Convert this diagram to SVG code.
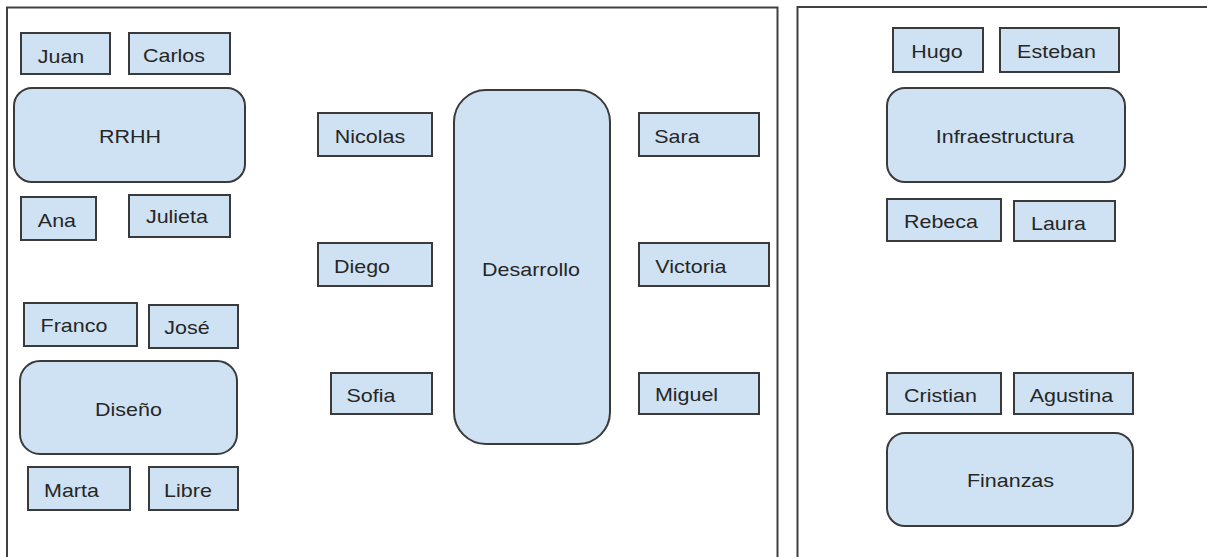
<svg xmlns="http://www.w3.org/2000/svg" width="1207" height="557" viewBox="0 0 1207 557">
  <style>
    .frame { fill: #ffffff; stroke: #404040; stroke-width: 2; }
    .box { fill: #cfe2f3; stroke: #3a3a3a; stroke-width: 2; }
    .lbl { font-family: "Liberation Sans", Arial, sans-serif; font-size: 19px; fill: #262626; text-anchor: middle;
           transform-box: fill-box; transform-origin: center; transform: scaleX(1.13); }
  </style>
  <rect width="1207" height="557" fill="#ffffff"/>

  <!-- area frames (open at the bottom / right edge) -->
  <g id="frames">
    <rect class="frame" x="7" y="7.5" width="770.5" height="600"/>
    <rect class="frame" x="797.5" y="7" width="460" height="600"/>
  </g>

  <g id="connectors"></g>

  <!-- RRHH -->
  <g id="rrhh">
    <rect class="box" x="14" y="88" width="231" height="94" rx="18"/>
    <text class="lbl" x="130" y="143">RRHH</text>
  </g>
  <g id="juan"><rect class="box" x="21" y="33" width="89" height="41"/><text class="lbl" x="61" y="63">Juan</text></g>
  <g id="carlos"><rect class="box" x="129" y="33" width="101" height="41"/><text class="lbl" x="174" y="62">Carlos</text></g>
  <g id="ana"><rect class="box" x="21" y="197" width="75" height="43"/><text class="lbl" x="57" y="227">Ana</text></g>
  <g id="julieta"><rect class="box" x="129" y="195" width="101" height="42"/><text class="lbl" x="177" y="223">Julieta</text></g>

  <!-- Diseño -->
  <g id="diseno">
    <rect class="box" x="20" y="361" width="217" height="93" rx="20"/>
    <text class="lbl" x="128.5" y="416">Diseño</text>
  </g>
  <g id="franco"><rect class="box" x="24" y="303" width="113" height="43"/><text class="lbl" x="74" y="332">Franco</text></g>
  <g id="jose"><rect class="box" x="149" y="305" width="89" height="43"/><text class="lbl" x="187" y="334">José</text></g>
  <g id="marta"><rect class="box" x="28" y="467" width="102" height="43"/><text class="lbl" x="71.5" y="497">Marta</text></g>
  <g id="libre"><rect class="box" x="149" y="467" width="89" height="43"/><text class="lbl" x="188" y="497">Libre</text></g>

  <!-- Desarrollo -->
  <g id="desarrollo">
    <rect class="box" x="454" y="90" width="156" height="354" rx="32"/>
    <text class="lbl" x="531" y="276">Desarrollo</text>
  </g>
  <g id="nicolas"><rect class="box" x="318" y="113" width="114" height="43"/><text class="lbl" x="370" y="143">Nicolas</text></g>
  <g id="diego"><rect class="box" x="318" y="243" width="114" height="43"/><text class="lbl" x="362" y="273">Diego</text></g>
  <g id="sofia"><rect class="box" x="331" y="373" width="101" height="41"/><text class="lbl" x="371" y="402">Sofia</text></g>
  <g id="sara"><rect class="box" x="639" y="113" width="120" height="43"/><text class="lbl" x="677" y="143">Sara</text></g>
  <g id="victoria"><rect class="box" x="639" y="243" width="130" height="43"/><text class="lbl" x="691" y="273">Victoria</text></g>
  <g id="miguel"><rect class="box" x="639" y="373" width="120" height="41"/><text class="lbl" x="686.5" y="401">Miguel</text></g>

  <!-- Infraestructura -->
  <g id="infraestructura">
    <rect class="box" x="887" y="88" width="238" height="94" rx="18"/>
    <text class="lbl" x="1005" y="143">Infraestructura</text>
  </g>
  <g id="hugo"><rect class="box" x="893" y="28" width="90" height="44"/><text class="lbl" x="937" y="58">Hugo</text></g>
  <g id="esteban"><rect class="box" x="1000" y="28" width="119" height="44"/><text class="lbl" x="1056.5" y="58">Esteban</text></g>
  <g id="rebeca"><rect class="box" x="887" y="199" width="114" height="42"/><text class="lbl" x="941" y="228">Rebeca</text></g>
  <g id="laura"><rect class="box" x="1014" y="201" width="101" height="40"/><text class="lbl" x="1058.5" y="230">Laura</text></g>

  <!-- Finanzas -->
  <g id="finanzas">
    <rect class="box" x="887" y="433" width="246" height="93" rx="18"/>
    <text class="lbl" x="1010.5" y="487">Finanzas</text>
  </g>
  <g id="cristian"><rect class="box" x="887" y="373" width="114" height="41"/><text class="lbl" x="940.5" y="402">Cristian</text></g>
  <g id="agustina"><rect class="box" x="1014" y="373" width="119" height="41"/><text class="lbl" x="1071.5" y="402">Agustina</text></g>
</svg>
